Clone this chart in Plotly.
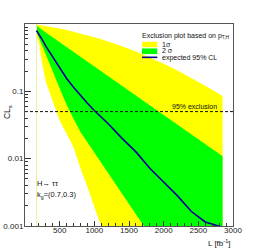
import plotly.graph_objects as go

# Integrated luminosity [fb^-1]
lumi = [165, 200, 250, 300, 400, 500, 600, 700, 800, 900, 1000, 1100, 1200,
        1400, 1600, 1800, 2000, 2200, 2400, 2600, 2800, 2850]
# expected CLs
expected = [0.80, 0.71, 0.58, 0.47, 0.32, 0.22, 0.155, 0.115, 0.087, 0.0665, 0.052,
            0.0416, 0.033, 0.020, 0.0126, 0.0072, 0.0045, 0.0028, 0.00164, 0.00115,
            0.00099, 0.00097]
# "2 sigma" (green) band edges
green_hi = [0.95, 0.88, 0.815, 0.748, 0.634, 0.537, 0.455, 0.385, 0.327, 0.277, 0.234,
            0.198, 0.168, 0.121, 0.0866, 0.062, 0.0446, 0.032, 0.0229, 0.0165, 0.0118, 0.0109]
green_lo = [0.77, 0.63, 0.47, 0.353, 0.20, 0.111, 0.063, 0.039, 0.0248, 0.0175, 0.0123,
            0.0087, 0.0061, 0.0030, 0.00149, 0.00074, 0.00037, 0.00018, 0.0001, 0.00005,
            0.00003, 0.00003]
# "1 sigma" (yellow) band edges
yellow_hi = [1.0, 0.967, 0.95, 0.933, 0.895, 0.855, 0.813, 0.769, 0.73, 0.682, 0.637,
             0.594, 0.55, 0.467, 0.39, 0.319, 0.257, 0.204, 0.159, 0.121, 0.0912, 0.0846]
yellow_lo = [0.70, 0.53, 0.253, 0.139, 0.0715, 0.037, 0.0235, 0.0148, 0.0072, 0.0038,
             0.0020, 0.001, 0.0005, 0.0002, 0.0001, 0.00005, 0.00004, 0.00003, 0.00002,
             0.00002, 0.00001, 0.00001]

exclusion_level = 0.05
x_ticks = [500, 1000, 1500, 2000, 2500, 3000]
y_ticks = [0.001, 0.01, 0.1]
y_tick_text = ["0.001", "0.01", "0.1"]

FONT = "Liberation Sans, Arial, Helvetica, sans-serif"
YELLOW = "#ffff00"
GREEN = "#00ff00"
BLUE = "#000099"

fig = go.Figure()

fig.add_trace(go.Scatter(
    x=lumi + lumi[::-1], y=yellow_hi + yellow_lo[::-1],
    fill="toself", fillcolor=YELLOW, mode="lines", line=dict(width=0),
    hoverinfo="skip", showlegend=False))
fig.add_trace(go.Scatter(
    x=lumi + lumi[::-1], y=green_hi + green_lo[::-1],
    fill="toself", fillcolor=GREEN, mode="lines", line=dict(width=0),
    hoverinfo="skip", showlegend=False))
# thin edge of the band at the first luminosity point
fig.add_trace(go.Scatter(
    x=[lumi[0], lumi[0]], y=[min(yellow_lo), yellow_hi[0]],
    mode="lines", line=dict(color="#eef39a", width=1),
    hoverinfo="skip", showlegend=False))
fig.add_trace(go.Scatter(
    x=lumi, y=expected, mode="lines", line=dict(color=BLUE, width=1.6),
    showlegend=False))
# 95% exclusion line
fig.add_trace(go.Scatter(
    x=[0, 3000], y=[exclusion_level, exclusion_level], mode="lines",
    line=dict(color="#111111", width=1, dash="3px,2px"),
    hoverinfo="skip", showlegend=False))

axis_common = dict(
    showgrid=False, zeroline=False, showline=True, mirror=True, automargin=False,
    linecolor="#555555", linewidth=1, ticks="inside", tickcolor="#333333",
    tickfont=dict(family=FONT, size=8, color="#222222"),
)

fig.update_xaxes(
    range=[0, 3000], tickvals=x_ticks, ticklen=5, ticklabelstandoff=-4,
    minor=dict(ticks="inside", dtick=100, ticklen=3, tickcolor="#333333"),
    **axis_common)
fig.update_yaxes(
    type="log", range=[-3, 0], tickvals=y_ticks, ticktext=y_tick_text, ticklen=6,
    ticklabelstandoff=-1,
    minor=dict(ticks="inside", dtick="D1", ticklen=3, tickcolor="#333333"),
    **axis_common)

ann = []
def add_text(text, x, y, size=7, xanchor="left", yanchor="middle", **kw):
    ann.append(dict(text=text, x=x, y=y, xref="paper", yref="paper",
                    xanchor=xanchor, yanchor=yanchor, showarrow=False,
                    font=dict(family=FONT, size=size, color="#111111"), **kw))

add_text("Exclusion plot based on p<sub>T,H</sub>", 0.554, 0.943)
add_text("1σ", 0.650, 0.900)
add_text("2 σ", 0.650, 0.867)
add_text("expected 95% CL", 0.650, 0.833)
add_text("H→ ττ", 0.048, 0.208, size=7.5)
add_text("k<sub>g</sub>=(0.7,0.3)", 0.048, 0.151, size=7.5)
add_text("CL<sub>s</sub>", -0.0865, 0.564, size=8.5, xanchor="center", textangle=-90)
add_text("L [fb<sup>-1</sup>]", 1.0, -0.084, size=8, xanchor="right")
ann.append(dict(text="95% exclusion", x=0.934, y=-1.301, xref="paper", yref="y",
                xanchor="right", yanchor="bottom", yshift=0, showarrow=False,
                font=dict(family=FONT, size=7, color="#111111")))

shapes = [
    dict(type="rect", xref="paper", yref="paper", x0=0.5625, x1=0.636, y0=0.885, y1=0.912,
         fillcolor=YELLOW, line=dict(width=0)),
    dict(type="rect", xref="paper", yref="paper", x0=0.5625, x1=0.636, y0=0.851, y1=0.879,
         fillcolor=GREEN, line=dict(width=0)),
    dict(type="line", xref="paper", yref="paper", x0=0.5625, x1=0.636, y0=0.835, y1=0.835,
         line=dict(color=BLUE, width=1.6)),
]

fig.update_layout(
    template="none",
    width=259, height=252,
    margin=dict(l=25, r=26, t=24, b=26),
    paper_bgcolor="white", plot_bgcolor="white",
    annotations=ann, shapes=shapes, showlegend=False,
)

fig.write_html("out.html", config={"displayModeBar": False},
               post_script="document.body.style.margin='0';document.body.style.overflow='hidden';")
